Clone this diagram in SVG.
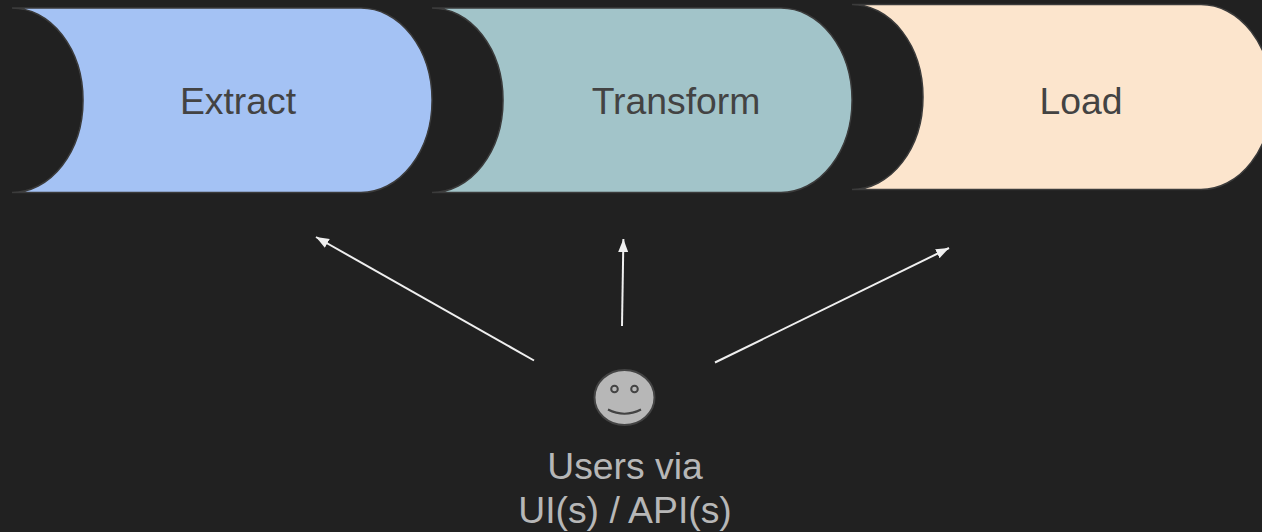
<svg xmlns="http://www.w3.org/2000/svg" width="1262" height="532" viewBox="0 0 1262 532">
<style>
.bg{fill:#212121}
.stage{stroke:#3b3b3b;stroke-width:1.5}
.lbl{font-family:"Liberation Sans",Arial,sans-serif;font-size:37.33px;fill:#434343;text-anchor:middle}
.usr{font-family:"Liberation Sans",Arial,sans-serif;font-size:37.33px;fill:#b7b7b7;text-anchor:middle}
.conn{stroke:#efefef;stroke-width:2;fill:none;marker-end:url(#arr)}
.face{stroke:#434343;stroke-width:2}
</style>
<defs>
<marker id="arr" markerUnits="userSpaceOnUse" markerWidth="14" markerHeight="12" refX="13" refY="5" orient="auto" viewBox="0 0 14 10"><path d="M0 0L13 5L0 10Z" fill="#efefef"/></marker>
</defs>
<rect class="bg" width="1262" height="532"/>
<g id="extract">
<path class="stage" fill="#a4c2f4" d="M12 8H361A71 92.2 0 0 1 361 192.500H12A71 92.2 0 0 0 12 8Z"/>
<text class="lbl" x="238" y="114">Extract</text>
</g>
<g id="transform">
<path class="stage" fill="#a2c4c9" d="M432 8H781A71 92.2 0 0 1 781 192.500H432A71 92.2 0 0 0 432 8Z"/>
<text class="lbl" x="676" y="114">Transform</text>
</g>
<g id="load">
<path class="stage" fill="#fce5cd" d="M852 4.500H1201A71 92.500 0 0 1 1201 189.500H852A71 92.500 0 0 0 852 4.500Z"/>
<text class="lbl" x="1081" y="114">Load</text>
</g>
<g id="connectors">
<path class="conn" d="M534 360.500L316 237"/>
<path class="conn" d="M622 326L623.400 239"/>
<path class="conn" d="M715 362.500L949 248"/>
</g>
<g id="users">
<ellipse class="face" cx="624.500" cy="397.500" rx="30" ry="27.500" fill="#b7b7b7"/>
<circle class="face" cx="614.500" cy="389" r="3.300" fill="#b7b7b7"/>
<circle class="face" cx="634.500" cy="389" r="3.300" fill="#b7b7b7"/>
<path class="face" d="M608 409.500Q624.500 418 641 409.500" fill="none"/>
<text class="usr" x="625" y="479">Users via</text>
<text class="usr" x="625" y="523">UI(s) / API(s)</text>
</g>
</svg>
